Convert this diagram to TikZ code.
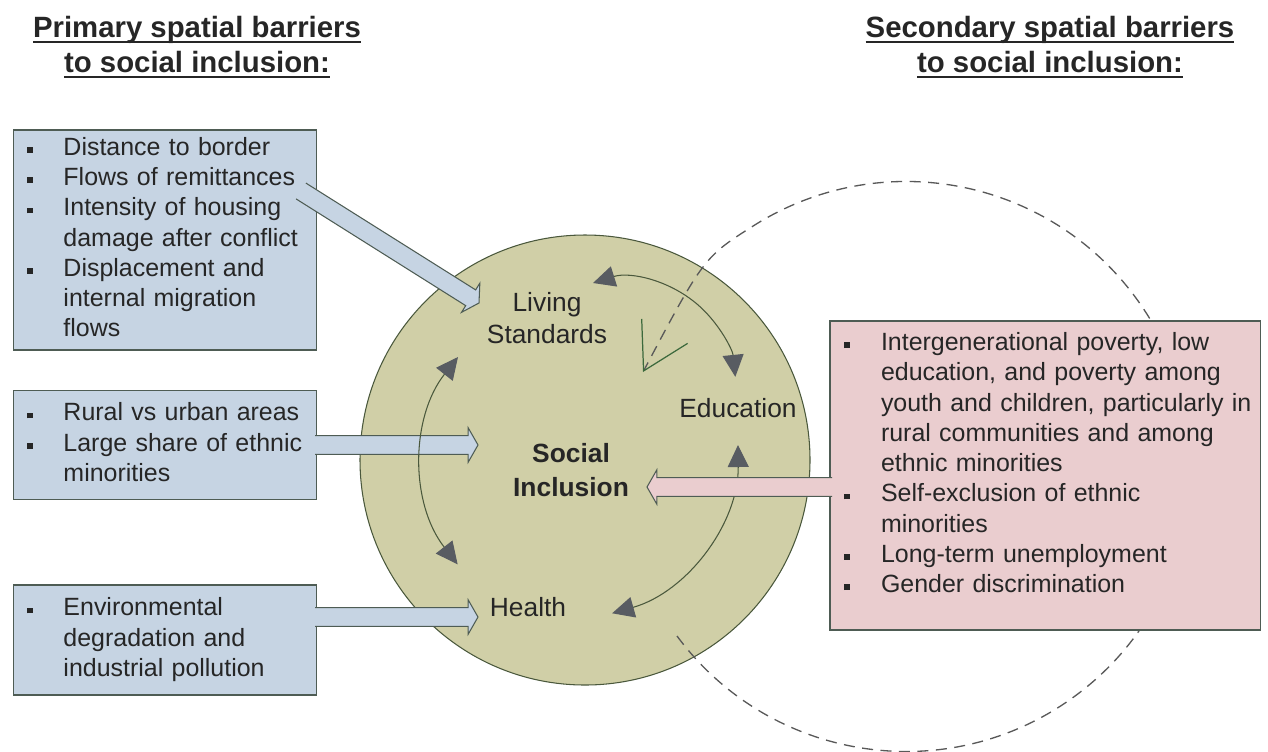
\documentclass[tikz,border=0pt]{standalone}
\usepackage{fontspec}
\setmainfont{Liberation Sans}
\usepackage{array}
\usetikzlibrary{arrows.meta,calc}
\definecolor{boxblue}{RGB}{198,212,227}
\definecolor{boxpink}{RGB}{234,205,207}
\definecolor{khaki}{RGB}{208,207,167}
\definecolor{edge}{RGB}{78,92,84}
\definecolor{rim}{RGB}{74,88,60}
\definecolor{tipgrey}{RGB}{88,92,98}
\definecolor{vgreen}{RGB}{60,105,60}
\newcommand{\sqb}{\rule[1.4pt]{3.3pt}{3.3pt}}
\newsavebox{\ulbox}
\newcommand{\ulin}[1]{\sbox\ulbox{#1}\usebox\ulbox\llap{\rule[-3.4pt]{\wd\ulbox}{1.2pt}}}

\begin{document}
\begin{tikzpicture}[x=0.2mm, y=-0.2mm,
    every node/.style={text=black!85},
    title/.style={font=\fontsize{16.7}{19.8}\selectfont\bfseries, align=center},
    barrier/.style={draw=edge, line width=0.6pt, inner xsep=2.8mm, inner ysep=0pt,
      text width=#1, font=\fontsize{14.2}{17.2}\selectfont, align=left},
    lab/.style={font=\fontsize{15}{18.7}\selectfont, align=center, inner sep=0pt},
    cyc/.style={draw=rim, line width=0.6pt, <->,
      >={Triangle[length=4.4mm,width=4.2mm,color=tipgrey]}},
    loopline/.style={draw=black!65, line width=0.75pt, dash pattern=on 2.2mm off 1.5mm,
      -{Straight Barb[length=9mm,width=10.4mm,color=vgreen,line width=0.7pt]}},
    fatarrow/.style={draw=edge, fill=#1, line width=0.6pt, line join=miter,
      to path={let \p1=(\tikztostart), \p2=(\tikztotarget),
        \n1={atan2(\y2-\y1,\x2-\x1)}, \n2={veclen(\x2-\x1,\y2-\y1)} in
        ([shift={(\p1)},rotate=\n1]0pt,5.3pt)
        -- ([shift={(\p1)},rotate=\n1]\n2-5.6pt,5.3pt)
        -- ([shift={(\p1)},rotate=\n1]\n2-5.6pt,9.8pt)
        -- ([shift={(\p1)},rotate=\n1]\n2,0pt)
        -- ([shift={(\p1)},rotate=\n1]\n2-5.6pt,-9.8pt)
        -- ([shift={(\p1)},rotate=\n1]\n2-5.6pt,-5.3pt)
        -- ([shift={(\p1)},rotate=\n1]0pt,-5.3pt)}}]
  \useasboundingbox (0,0) rectangle (1268,751);

  \node[title] (pt) at (197,47) {\ulin{Primary spatial barriers}\\\ulin{to social inclusion:}};
  \node[title] (st) at (1050,47) {\ulin{Secondary spatial barriers}\\\ulin{to social inclusion:}};

  \node[barrier=55mm, fill=boxblue, minimum height=44mm] (dist) at (165,240) {%
    \begin{tabular}{@{}p{7.2mm}@{}l@{}}
    \sqb & Distance to border\\
    \sqb & Flows of remittances\\
    \sqb & Intensity of housing\\
         & damage after conflict\\
    \sqb & Displacement and\\
         & internal migration\\
         & flows
    \end{tabular}};
  \node[barrier=55mm, fill=boxblue, minimum height=21.8mm] (rural) at (165,445) {%
    \begin{tabular}{@{}p{7.2mm}@{}l@{}}
    \sqb & Rural vs urban areas\\
    \sqb & Large share of ethnic\\
         & minorities
    \end{tabular}};
  \node[barrier=55mm, fill=boxblue, minimum height=22mm] (env) at (165,640) {%
    \begin{tabular}{@{}p{7.2mm}@{}l@{}}
    \sqb & Environmental\\
         & degradation and\\
         & industrial pollution
    \end{tabular}};

  \node[circle, draw=rim, fill=khaki, line width=0.6pt, minimum size=90mm, inner sep=0pt] (c) at (585,460) {};

  \coordinate (a1) at (301,191);
  \coordinate (t1) at (479,303);
  \coordinate (t2) at (478,445);
  \coordinate (a3) at (315,617);
  \coordinate (t3) at (478,617);
  \draw[fatarrow=boxblue] (a1) to (t1);
  \draw[fatarrow=boxblue] ([xshift=-0.4mm]rural.east) to (t2);
  \draw[fatarrow=boxblue] (a3) to (t3);

  \coordinate (d0) at (677,636);
  \coordinate (d1) at (643,372);
  \draw[loopline] (d0) arc[start angle=143.5, end angle=-122, radius=285] .. controls (704,257) .. (d1);

  \coordinate (u0) at (593,283);
  \coordinate (l0) at (458,357);
  \coordinate (r0) at (738,445);
  \draw[cyc] (u0) arc[start angle=-107.4, end angle=-5.8, radius=110];
  \draw[cyc] (l0) arc[start angle=218.2, end angle=142, radius=168];
  \draw[cyc] (r0) arc[start angle=-0.6, end angle=74.2, radius=173];

  \node[lab] (ls) at (547,318) {Living\\Standards};
  \node[lab] (ed) at (738,408) {Education};
  \node[lab, font=\fontsize{15}{19.3}\selectfont\bfseries] (si) at (571,470) {Social\\Inclusion};
  \node[lab] (hl) at (528,607) {Health};

  \node[barrier=80.4mm, fill=boxpink, minimum height=61.8mm] (sec) at (1045,475.5) {%
    \begin{tabular}{@{}p{7.4mm}@{}l@{}}
    \sqb & Intergenerational poverty, low\\
         & education, and poverty among\\
         & youth and children, particularly in\\
         & rural communities and among\\
         & ethnic minorities\\
    \sqb & Self-exclusion of ethnic\\
         & minorities\\
    \sqb & Long-term unemployment\\
    \sqb & Gender discrimination\\[4mm]
    \end{tabular}};

  \coordinate (a4) at (832,487);
  \coordinate (t4) at (647,487);
  \draw[fatarrow=boxpink] (a4) to (t4);
\end{tikzpicture}
\end{document}
